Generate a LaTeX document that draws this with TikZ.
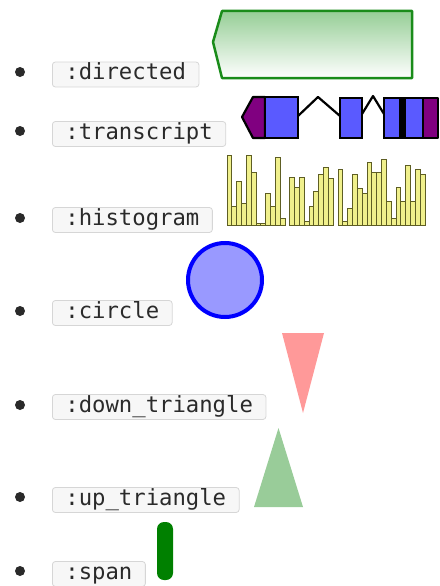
\documentclass[tikz,border=0pt]{standalone}
\usepackage{fontspec}
\setmonofont{DejaVu Sans Mono}
\definecolor{lblfill}{HTML}{F7F7F7}
\definecolor{lbldraw}{HTML}{D6D6D6}
\definecolor{lbltext}{HTML}{2A2A2A}
\definecolor{dirgreen}{HTML}{1A8C1A}
\definecolor{dirtop}{HTML}{96CE96}
\definecolor{purp}{HTML}{800080}
\definecolor{exblue}{HTML}{5A5AFF}
\definecolor{histfill}{HTML}{F0F08C}
\definecolor{histdraw}{HTML}{5E5E24}
\definecolor{circfill}{HTML}{9999FF}
\definecolor{downcol}{HTML}{FF9999}
\definecolor{upcol}{HTML}{99CC99}
\definecolor{spancol}{HTML}{008000}
\tikzset{
  lbl/.style={anchor=west, draw=lbldraw, fill=lblfill, rounded corners=3pt, line width=0.8pt,
    text=lbltext, font=\ttfamily\fontsize{22.25}{26}\selectfont, inner xsep=13pt, inner ysep=3pt,
    text height=15pt, text depth=4pt},
  bul/.style={circle, fill=lbltext, inner sep=0pt, minimum size=10pt},
  exon/.style={fill=exblue, draw=black, line width=2.2pt},
  utr/.style={fill=purp, draw=black, line width=2.2pt, line join=round},
  intron/.style={draw=black, line width=2.2pt},
  bar/.style={fill=histfill, draw=histdraw, line width=0.9pt}
}
\begin{document}
\begin{tikzpicture}[x=1pt,y=-1pt]
\useasboundingbox (0,0) rectangle (439,586);
% labels
\node[lbl] (ldir) at (52,74.5) {:directed};
\node[lbl] (ltr) at (52,134) {:transcript};
\node[lbl] (lhist) at (52,220) {:histogram};
\node[lbl] (lcirc) at (52,313) {:circle};
\node[lbl] (ldown) at (52,407) {:down\_triangle};
\node[lbl] (lup) at (52,500) {:up\_triangle};
\node[lbl] (lspan) at (52,574) {:span};
% bullets
\node[bul] (b1) at (20,72) {};
\node[bul] (b2) at (20,131) {};
\node[bul] (b3) at (20,218) {};
\node[bul] (b4) at (20,311) {};
\node[bul] (b5) at (20,405) {};
\node[bul] (b6) at (20,497) {};
\node[bul] (b7) at (20,571) {};
% directed
\shade[top color=dirtop, bottom color=white] (222,11) -- (412,11) -- (412,78) -- (222,78) -- (213,42) -- cycle;
\draw[dirgreen, line width=2.5pt, line join=round] (222,11) -- (412,11) -- (412,78) -- (222,78) -- (213,42) -- cycle;
% transcript
\draw[intron, line join=round] (298,116) -- (318,97) -- (340,116);
\draw[intron, line join=round] (362,114) -- (373,96) -- (384,114);
\draw[utr] (265,97) -- (253,97) -- (242,117) -- (253,138) -- (265,138) -- cycle;
\draw[exon] (265,97) rectangle (298,138);
\draw[exon] (340,98) rectangle (362,138);
\draw[exon] (384,98) rectangle (400,138);
\draw[exon] (401.5,98) rectangle (403.5,138);
\draw[exon] (405,98) rectangle (423,138);
\draw[utr] (423,98) rectangle (438,138);
% histogram
\foreach \h [count=\i] in {70,19,44,22,70,53,2,2,32,19,68,7,0,48,38,48,4,19,34,51,58,47,0,56,4,17,51,37,32,63,53,53,66,24,7,38,24,60,24,56,51}{
  \ifdim \h pt>0pt
    \draw[bar] ({227+(\i-1)*4.83},225) rectangle ({227+\i*4.83},{225-\h});
  \fi
}
% circle
\draw[draw=blue, fill=circfill, line width=4pt] (225,280) circle (37);
% triangles
\fill[downcol] (282,333) -- (324,333) -- (303,413) -- cycle;
\fill[upcol] (254,507) -- (303,507) -- (278.5,428) -- cycle;
% span
\fill[spancol, rounded corners=7pt] (157,522) rectangle (173,580);
\end{tikzpicture}
\end{document}
